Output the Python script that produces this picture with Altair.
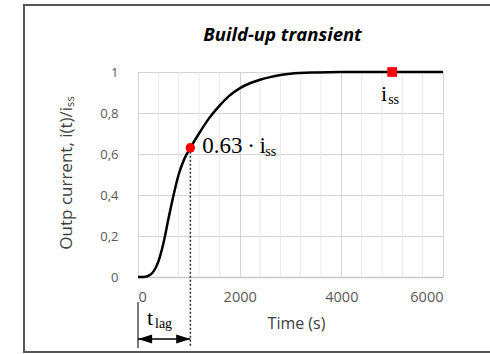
import altair as alt
import pandas as pd

# Normalised output current during the build-up transient
time_s = [0, 100, 200, 300, 400, 500, 600, 700, 800, 900, 1030, 1200, 1400,
          1600, 1800, 2000, 2200, 2400, 2600, 2800, 3000, 3500, 4000, 5000, 6000]
current = [0, 0, 0.005, 0.025, 0.075, 0.165, 0.285, 0.40, 0.50, 0.57, 0.63, 0.70,
           0.775, 0.835, 0.885, 0.92, 0.945, 0.962, 0.975, 0.985, 0.992, 0.998,
           1.0, 1.0, 1.0]

t_lag = 1030       # time at which the current reaches 63 % of steady state
frac_lag = 0.63
t_ss = 5000        # steady-state marker
i_ss = 1.0

chart_title = "Build-up transient"
x_major = [0, 2000, 4000, 6000]
x_minor = [400, 800, 1200, 1600, 2400, 2800, 3200, 3600, 4400, 4800, 5200, 5600]

W, H = 305, 205
LEFT, TOP = 138, 72

curve = pd.DataFrame({"t": time_s, "i": current})
minor = pd.DataFrame({"t": x_minor})
lag_pt = pd.DataFrame({"t": [t_lag], "i": [frac_lag]})
ss_pt = pd.DataFrame({"t": [t_ss], "i": [i_ss]})
arrow = pd.DataFrame({"t": [0], "t2": [t_lag]})
lag_end = pd.DataFrame({"t": [t_lag]})

xs = alt.Scale(domain=[0, 6000], nice=False)
ys = alt.Scale(domain=[0, 1], nice=False)

label_font = "Open Sans"
serif = "Liberation Serif"

minor_grid = alt.Chart(minor).mark_rule(color="#e9e9e9", strokeWidth=1).encode(
    x=alt.X("t:Q", scale=xs)
)

line = alt.Chart(curve).mark_line(
    color="black", strokeWidth=2.5, interpolate="monotone"
).encode(
    x=alt.X(
        "t:Q",
        scale=xs,
        title="Time (s)",
        axis=alt.Axis(
            values=x_major,
            format="d",
            grid=True,
            gridColor="#d4d4d4",
            domainColor="#c8c8c8",
            domainWidth=1.5,
            ticks=False,
            labelPadding=13,
            labelFont=label_font,
            labelFontSize=14.5,
            labelColor="#595959",
            titleFont=label_font,
            titleFontSize=16,
            titleFontWeight="normal",
            titleColor="#404040",
            titleX=158,
            titleY=46,
            titleBaseline="middle",
            titleAlign="center",
        ),
    ),
    y=alt.Y(
        "i:Q",
        scale=ys,
        title="Outp current, i(t)/iₛₛ",
        axis=alt.Axis(
            values=[0, 0.2, 0.4, 0.6, 0.8, 1],
            grid=True,
            gridColor="#d4d4d4",
            domain=False,
            ticks=False,
            labelPadding=20,
            labelExpr="replace(format(datum.value, '~g'), '.', ',')",
            labelFont=label_font,
            labelFontSize=13,
            labelColor="#595959",
            titleFont=label_font,
            titleFontSize=17,
            titleFontWeight="normal",
            titleColor="#404040",
            titleX=-72,
            titleY=H / 2 - 2,
            titleBaseline="middle",
            titleAlign="center",
        ),
    ),
)

# dotted drop line from the 63 % point to below the axis
drop = alt.Chart(lag_pt).mark_rule(
    color="#333333", strokeWidth=1.6, strokeDash=[2, 2]
).encode(x=alt.X("t:Q", scale=xs), y=alt.Y("i:Q", scale=ys), y2=alt.value(275))

lag_dot = alt.Chart(lag_pt).mark_point(
    shape="circle", filled=True, color="#ff0000", size=90, opacity=1
).encode(x=alt.X("t:Q", scale=xs), y=alt.Y("i:Q", scale=ys))

ss_mark = alt.Chart(ss_pt).mark_point(
    shape="square", filled=True, color="#ff0000", size=95, opacity=1
).encode(x=alt.X("t:Q", scale=xs), y=alt.Y("i:Q", scale=ys))

lag_text = alt.Chart(lag_pt).mark_text(
    font=serif, fontSize=23, align="left", baseline="alphabetic", dx=12, dy=5,
    color="black"
).encode(x=alt.X("t:Q", scale=xs), y=alt.Y("i:Q", scale=ys),
         text=alt.value("0.63\u2009·\u2009i"))
lag_sub = alt.Chart(lag_pt).mark_text(
    font=serif, fontSize=14, align="left", baseline="alphabetic", dx=75, dy=8,
    color="black"
).encode(x=alt.X("t:Q", scale=xs), y=alt.Y("i:Q", scale=ys),
         text=alt.value("ss"))

ss_text = alt.Chart(ss_pt).mark_text(
    font=serif, fontSize=22, align="center", baseline="alphabetic", dx=-8, dy=29,
    color="black"
).encode(x=alt.X("t:Q", scale=xs), y=alt.Y("i:Q", scale=ys),
         text=alt.value("i"))
ss_sub = alt.Chart(ss_pt).mark_text(
    font=serif, fontSize=14, align="left", baseline="alphabetic", dx=-4, dy=32,
    color="black"
).encode(x=alt.X("t:Q", scale=xs), y=alt.Y("i:Q", scale=ys),
         text=alt.value("ss"))

# t_lag dimension arrow below the axis
tick0 = alt.Chart(arrow).mark_rule(color="#333333", strokeWidth=1.3).encode(
    x=alt.X("t:Q", scale=xs), y=alt.value(230), y2=alt.value(276)
)
arrow_shaft = alt.Chart(arrow).mark_rule(color="black", strokeWidth=1.5).encode(
    x=alt.X("t:Q", scale=xs), x2="t2:Q", y=alt.value(267)
)
head_l = alt.Chart(arrow).mark_point(
    shape="M0,0L2,-0.65L2,0.65Z", filled=True, color="black", size=200, opacity=1
).encode(x=alt.X("t:Q", scale=xs), y=alt.value(267))
head_r = alt.Chart(lag_end).mark_point(
    shape="M0,0L-2,-0.65L-2,0.65Z", filled=True, color="black", size=200, opacity=1
).encode(x=alt.X("t:Q", scale=xs), y=alt.value(267))

tlag_t = alt.Chart(arrow).mark_text(
    font=serif, fontSize=22, align="left", baseline="alphabetic", color="black",
    dx=9
).encode(x=alt.X("t:Q", scale=xs), y=alt.value(253), text=alt.value("t"))
tlag_sub = alt.Chart(arrow).mark_text(
    font=serif, fontSize=14, align="left", baseline="alphabetic", color="black",
    dx=17
).encode(x=alt.X("t:Q", scale=xs), y=alt.value(256), text=alt.value("lag"))

# chart heading, set above the plot area
heading = alt.Chart(arrow).mark_text(
    font=label_font, fontSize=18.5, fontWeight="bold", fontStyle="italic",
    color="black", align="center", baseline="alphabetic"
).encode(x=alt.value(W / 2 - 8), y=alt.value(41 - TOP), text=alt.value(chart_title))

# outer frame around the figure
frame = alt.Chart(arrow).mark_rect(
    fill=None, stroke="#555555", strokeWidth=2
).encode(
    x=alt.value(24 - LEFT), x2=alt.value(495 - LEFT),
    y=alt.value(5 - TOP), y2=alt.value(352 - TOP)
)

chart = alt.layer(
    minor_grid, line, drop, lag_dot, ss_mark, lag_text, lag_sub, ss_text, ss_sub,
    tick0, arrow_shaft, head_l, head_r, tlag_t, tlag_sub, heading, frame
).properties(
    width=W,
    height=H,
    autosize=alt.AutoSizeParams(type="none"),
    padding={"left": LEFT, "top": TOP, "right": 490 - LEFT - W, "bottom": 354 - TOP - H},
    background="white",
).configure_view(stroke=None)

chart.save("out.html", embed_options={"renderer": "svg", "actions": False})
